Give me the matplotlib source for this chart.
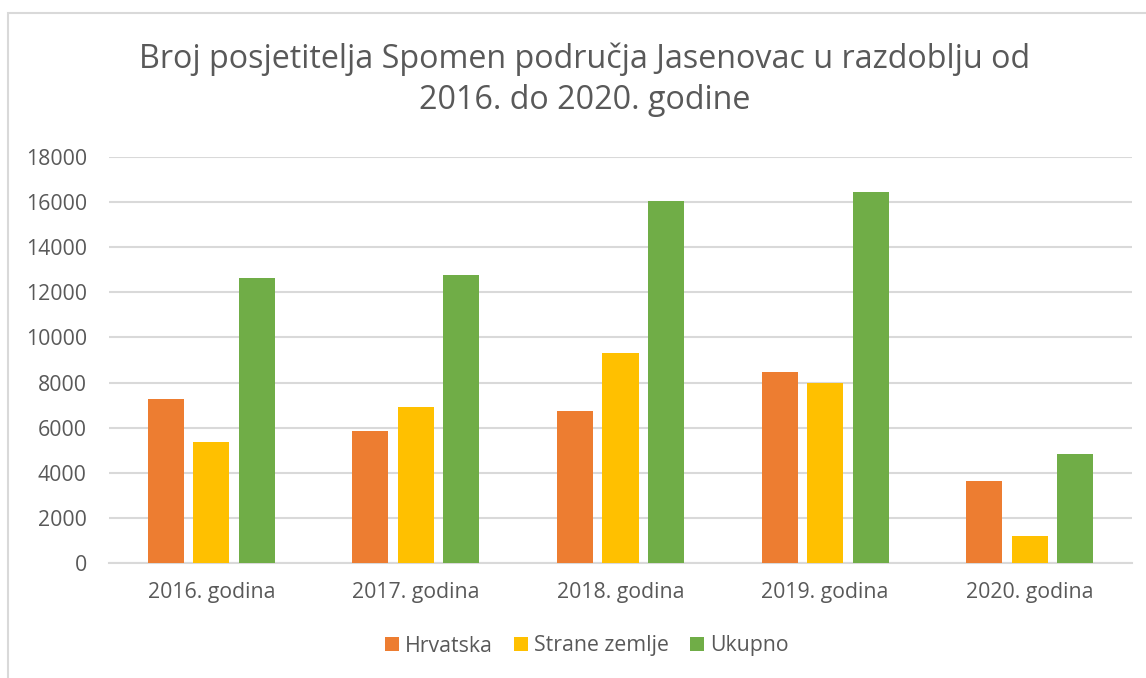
import matplotlib
matplotlib.use("Agg")
import matplotlib.pyplot as plt
import numpy as np
from matplotlib.patches import Rectangle

categories = ["2016. godina", "2017. godina", "2018. godina", "2019. godina", "2020. godina"]
hrvatska = [7290, 5870, 6720, 8490, 3620]
strane_zemlje = [5350, 6900, 9330, 7980, 1200]
ukupno = [12640, 12790, 16050, 16470, 4830]
series_names = ["Hrvatska", "Strane zemlje", "Ukupno"]
colors = ["#ED7D31", "#FFC000", "#70AD47"]
yticks = [0, 2000, 4000, 6000, 8000, 10000, 12000, 14000, 16000, 18000]
title = "Broj posjetitelja Spomen područja Jasenovac u razdoblju od\n2016. do 2020. godine"

plt.rcParams['font.family'] = ['Open Sans', 'DejaVu Sans']
txt = "#595959"

fig = plt.figure(figsize=(11.46, 6.78), dpi=100)
W, H = 1146, 678
ax = fig.add_axes([109 / W, 115 / H, (1132 - 109) / W, (563 - 157) / H])

x = np.arange(len(categories))
bw = 0.176
step = 0.222
for i, (vals, name, c) in enumerate(zip([hrvatska, strane_zemlje, ukupno], series_names, colors)):
    ax.bar(x + (i - 1) * step, vals, width=bw, color=c, label=name, zorder=3)

ax.set_xlim(-0.5, len(categories) - 0.5)
ax.set_ylim(0, 18000)
ax.set_yticks(yticks)
ax.set_yticklabels([str(v) for v in yticks])
ax.set_xticks(x)
ax.set_xticklabels(categories)
ax.tick_params(axis='y', length=0, pad=16, labelsize=15.3, labelcolor=txt)
ax.tick_params(axis='x', length=0, pad=14, labelsize=15.3, labelcolor=txt)
ax.grid(axis='y', color='#d9d9d9', linewidth=1.5, zorder=0)
for s in ['top', 'right', 'left']:
    ax.spines[s].set_visible(False)
ax.spines['bottom'].set_color('#d9d9d9')
ax.spines['bottom'].set_linewidth(1.5)

fig.text(585 / W, 1 - 80 / H, title, ha='center', va='center', fontsize=23.2,
         color=txt, linespacing=1.32)

leg = fig.legend(loc='center', bbox_to_anchor=(587 / W, 1 - 646 / H), ncol=3, frameon=False,
                 fontsize=15.3, handlelength=0.65, handleheight=0.65, handletextpad=0.3,
                 columnspacing=1.0, labelcolor=txt)

# chart border (left and top visible)
fig.add_artist(Rectangle((8 / W, -0.1), 1.2, (678 - 13) / H + 0.1, transform=fig.transFigure,
                         fill=False, edgecolor='#d9d9d9', linewidth=1.5))

fig.savefig("out.png", dpi=100)
